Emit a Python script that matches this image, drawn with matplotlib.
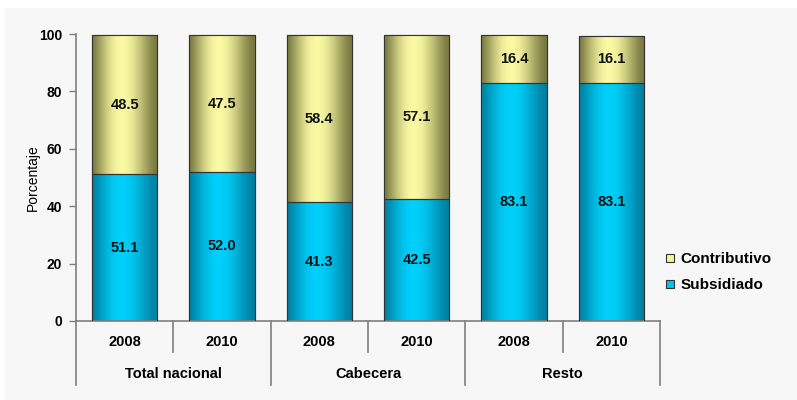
import numpy as np
import matplotlib.pyplot as plt
from matplotlib.colors import to_rgb
from matplotlib.lines import Line2D
from matplotlib.patches import Rectangle
import matplotlib.transforms as mtransforms

plt.rcParams['font.family'] = ['Liberation Sans', 'DejaVu Sans']

years = ["2008", "2010", "2008", "2010", "2008", "2010"]
groups = ["Total nacional", "Cabecera", "Resto"]
subsidiado = [51.1, 52.0, 41.3, 42.5, 83.1, 83.1]
contributivo = [48.5, 47.5, 58.4, 57.1, 16.4, 16.1]
yticks = [0, 20, 40, 60, 80, 100]


def shade(dark, light, n=200):
    # cilindro: oscuro en los bordes, claro un poco a la izquierda del centro
    t = np.linspace(0, 1, n)
    peak = 0.45
    left = np.sin(np.pi / 2 * t / peak) ** 1.2
    right = np.cos(np.pi / 2 * (t - peak) / (1 - peak)) ** 1.5
    s = np.where(t < peak, left, right)
    d = np.array(to_rgb(dark))
    l = np.array(to_rgb(light))
    return (d + (l - d) * s[:, None])[None, :, :]


fig = plt.figure(figsize=(7.97, 4.0), dpi=100)
fig.patch.set_facecolor("white")
fig.patches.append(Rectangle((5 / 797, 0), 1, 1 - 8 / 400, transform=fig.transFigure,
                             facecolor="#f7f7f7", edgecolor="none", zorder=-10))

ax = fig.add_axes([76 / 797, 1 - 321 / 400, 584 / 797, 287 / 400])
ax.set_facecolor("none")

x = np.arange(len(years))
w = 0.67
b1 = ax.bar(x, subsidiado, w, color="#00c4ee", edgecolor="#333333", linewidth=0.8, zorder=2)
b2 = ax.bar(x, contributivo, w, bottom=subsidiado, color="#f3f398", edgecolor="#333333",
            linewidth=0.8, zorder=2)

grad_blue = shade("#007ea0", "#00d0fa")
grad_yel = shade("#77773f", "#fafaa4")
for bars, grad in ((b1, grad_blue), (b2, grad_yel)):
    for p in bars:
        x0, y0 = p.get_x(), p.get_y()
        im = ax.imshow(grad, extent=(x0, x0 + p.get_width(), y0, y0 + p.get_height()),
                       aspect="auto", zorder=2.5, interpolation="bilinear")
        im.set_clip_path(p)
        edge = Rectangle((x0, y0), p.get_width(), p.get_height(), facecolor="none",
                         edgecolor="#333333", linewidth=0.8, zorder=3)
        ax.add_patch(edge)

for i in range(len(years)):
    ax.text(x[i], subsidiado[i] / 2, f"{subsidiado[i]:.1f}", ha="center", va="center",
            fontsize=10.5, fontweight="bold", color="#111111", zorder=4)
    ax.text(x[i], subsidiado[i] + contributivo[i] / 2, f"{contributivo[i]:.1f}", ha="center",
            va="center", fontsize=10.5, fontweight="bold", color="#111111", zorder=4)

ax.set_xlim(-0.5, len(years) - 0.5)
ax.set_ylim(0, 100)
ax.set_yticks(yticks)
ax.set_yticklabels([str(v) for v in yticks], fontsize=10, fontweight="bold")
ax.set_xticks([])
ax.tick_params(axis="y", length=5, width=1, color="#808080", pad=5)
for s in ("top", "right"):
    ax.spines[s].set_visible(False)
for s in ("left", "bottom"):
    ax.spines[s].set_color("#808080")
    ax.spines[s].set_linewidth(1.2)
ax.set_ylabel("Porcentaje", fontsize=10, labelpad=-1)

# ejes de categorías en dos niveles
trans = mtransforms.blended_transform_factory(ax.transData, ax.transAxes)
for k in range(len(years) + 1):
    xb = k - 0.5
    ybot = -0.223 if k % 2 == 0 else -0.108
    ax.add_line(Line2D([xb, xb], [0, ybot], transform=trans, color="#808080",
                       linewidth=1.2, clip_on=False))
for i, yr in enumerate(years):
    ax.text(x[i], -0.073, yr, transform=trans, ha="center", va="center",
            fontsize=10.5, fontweight="bold")
for g, name in enumerate(groups):
    ax.text(2 * g + 0.5, -0.185, name, transform=trans, ha="center", va="center",
            fontsize=10.5, fontweight="bold")

# leyenda
handles = [Line2D([], [], marker="s", linestyle="none", markersize=6,
                  markerfacecolor="#f3f398", markeredgecolor="#333333", markeredgewidth=0.8),
           Line2D([], [], marker="s", linestyle="none", markersize=6,
                  markerfacecolor="#00c4ee", markeredgecolor="#333333", markeredgewidth=0.8)]
leg = fig.legend(handles, ["Contributivo", "Subsidiado"], loc="center left",
                 bbox_to_anchor=(662 / 797, 1 - 272 / 400), frameon=False,
                 prop={"size": 11, "weight": "bold"}, handletextpad=0.2,
                 labelspacing=0.8, handlelength=1.0, borderaxespad=0, borderpad=0)

fig.savefig("out.png", dpi=100, facecolor=fig.get_facecolor())
